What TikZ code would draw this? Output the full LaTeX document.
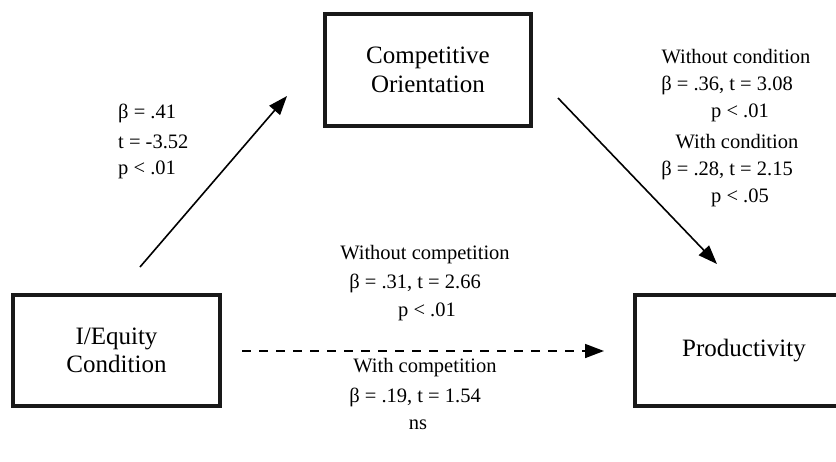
\documentclass[tikz,border=0pt]{standalone}
\usepackage{fontspec}
\setmainfont{Liberation Serif}
\usetikzlibrary{arrows.meta}
\begin{document}
\begin{tikzpicture}[x=1pt,y=-1pt,
  box/.style={draw=black!90, line width=4pt, minimum width=#1, minimum height=111pt, inner sep=0pt, align=center, font=\fontsize{25}{28.5}\selectfont},
  lab/.style={inner sep=0pt, font=\fontsize{20.5}{28}\selectfont},
  conn/.style={line width=1.6pt, -{Triangle[length=19pt,width=14pt]}}]
\useasboundingbox (0,0) rectangle (836,461);
% boxes
\node[box=207pt] (ieq) at (116.5,350.5) {I/Equity\\Condition};
\node[box=206pt, minimum height=112pt] (comp) at (428,70) {Competitive\\Orientation};
\node[box=218pt] (prod) at (744,350.5) {Productivity};
% connectors
\coordinate (s1) at (140,267);
\coordinate (e1) at (287,96);
\coordinate (s2) at (558,98);
\coordinate (e2) at (717,264);
\coordinate (s3) at (242,351);
\coordinate (e3) at (604,351);
\draw[conn] (s1) -- (e1);
\draw[conn] (s2) -- (e2);
\draw[conn, dash pattern=on 9pt off 8pt] (s3) -- (e3);
% left labels
\node[lab, anchor=west] (l1) at (118,113) {β = .41};
\node[lab, anchor=west] (l2) at (118,142) {t = -3.52};
\node[lab, anchor=west] (l3) at (118,170) {p < .01};
% right labels
\node[lab] (r1) at (736,57) {Without condition};
\node[lab] (r2) at (727,85) {β = .36, t = 3.08};
\node[lab] (r3) at (740,113) {p < .01};
\node[lab] (r4) at (737,142) {With condition};
\node[lab] (r5) at (727,170) {β = .28, t = 2.15};
\node[lab] (r6) at (740,198) {p < .05};
% middle labels
\node[lab] (m1) at (425,255) {Without competition};
\node[lab] (m2) at (415,283) {β = .31, t = 2.66};
\node[lab] (m3) at (427,312) {p < .01};
\node[lab] (m4) at (425,368) {With competition};
\node[lab] (m5) at (415,397) {β = .19, t = 1.54};
\node[lab] (m6) at (418,425) {ns};
\end{tikzpicture}
\end{document}
